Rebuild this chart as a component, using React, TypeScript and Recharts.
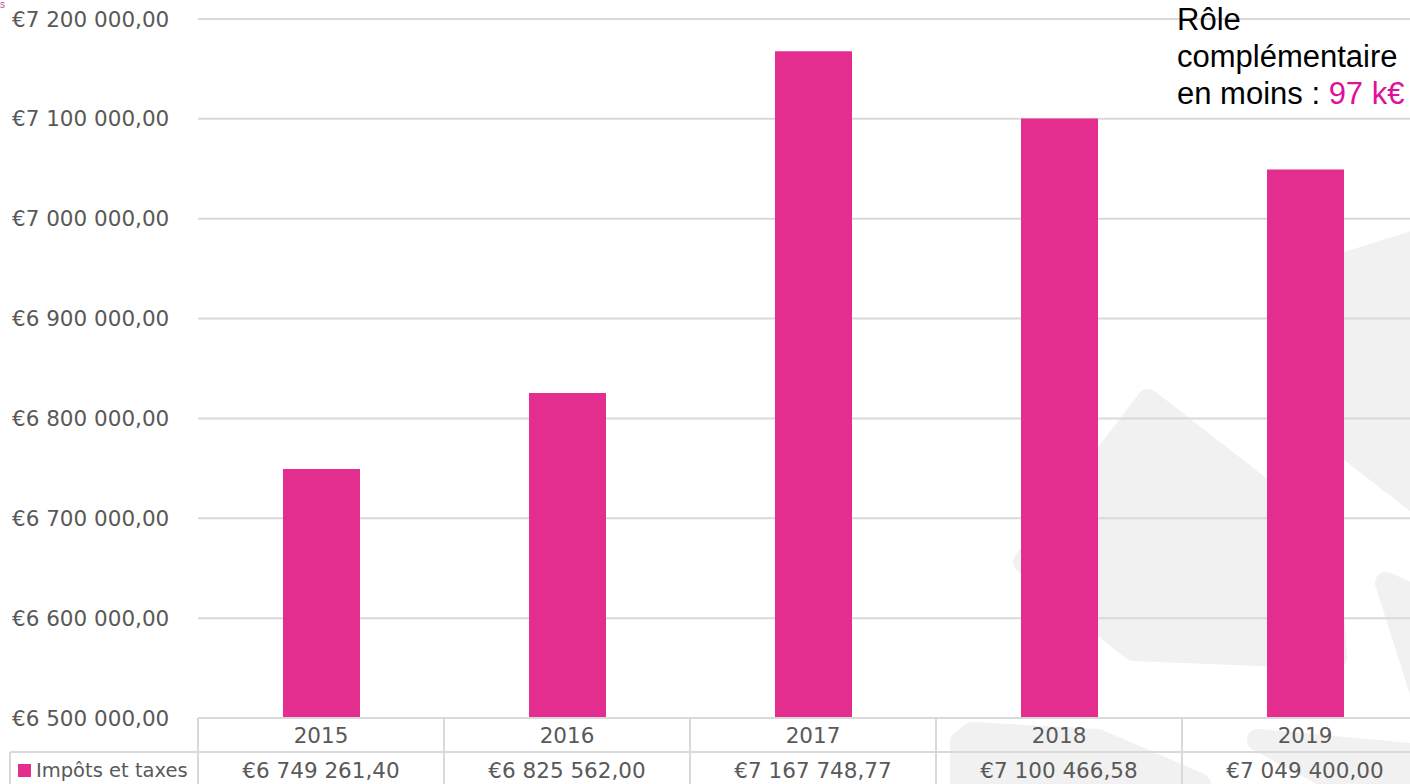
import React from 'react';
import { BarChart, Bar, XAxis, YAxis, CartesianGrid } from 'recharts';

const categories = ['2015', '2016', '2017', '2018', '2019'];
const values = [6749261.4, 6825562.0, 7167748.77, 7100466.58, 7049400.0];
const yTicks = [6500000, 6600000, 6700000, 6800000, 6900000, 7000000, 7100000, 7200000];
const seriesName = 'Impôts et taxes';
const annotationLines = ['Rôle', 'complémentaire', 'en moins : '];
const annotationValue = '97 k€';

const data = categories.map((c, i) => ({ year: c, value: values[i] }));

const W = 1440;
const H = 784;
const PLOT_LEFT = 198;
const PLOT_RIGHT = 1428;
const BAND = (PLOT_RIGHT - PLOT_LEFT) / categories.length;
const FONT = '"DejaVu Sans", Verdana, sans-serif';
const FONT2 = '"Liberation Sans", Arial, sans-serif';
const FS = 21.5;
const FS_LEG = 19.5;
const TXT = '#595959';
const LINE = '#d9d9d9';
const PINK = '#E32D8F';

function fmt(v: number): string {
  const [ip, dp] = v.toFixed(2).split('.');
  const grouped = ip.replace(/\B(?=(\d{3})+(?!\d))/g, ' ');
  return `€${grouped},${dp}`;
}

const YTick = (props: any) => {
  const { y, payload } = props;
  return (
    <text x={12} y={y} dominantBaseline="central" textAnchor="start" fontFamily={FONT} fontSize={FS} fill={TXT}>
      {fmt(payload.value)}
    </text>
  );
};

const XTick = (props: any) => {
  const { x, y, payload, index } = props;
  const i = payload.index ?? index;
  const left = x - BAND / 2;
  const right = x + BAND / 2;
  return (
    <g>
      <line x1={left} y1={y} x2={left} y2={H} stroke={LINE} strokeWidth={2} />
      {i === categories.length - 1 && <line x1={right} y1={y} x2={right} y2={H} stroke={LINE} strokeWidth={2} />}
      {i === 0 && (
        <g>
          <line x1={10} y1={y + 34} x2={W} y2={y + 34} stroke={LINE} strokeWidth={2} />
          <line x1={10} y1={y + 34} x2={10} y2={H} stroke={LINE} strokeWidth={2} />
          <rect x={18} y={y + 46} width={13} height={13} fill={PINK} />
          <text x={36} y={y + 52} dominantBaseline="central" fontFamily={FONT} fontSize={FS_LEG} fill={TXT}>
            {seriesName}
          </text>
        </g>
      )}
      <text x={x} y={y + 17} textAnchor="middle" dominantBaseline="central" fontFamily={FONT} fontSize={FS} fill={TXT}>
        {payload.value}
      </text>
      <text x={x} y={y + 52} textAnchor="middle" dominantBaseline="central" fontFamily={FONT} fontSize={FS} fill={TXT}>
        {fmt(values[i])}
      </text>
    </g>
  );
};

const WM = '#f0f1f0';

export default function App() {
  return (
    <div style={{ position: 'absolute', left: 0, top: 0, width: 1410, height: 784, overflow: 'hidden', background: '#fff' }}>
      <svg width={1410} height={784} style={{ position: 'absolute', left: 0, top: 0 }}>
        <g fill={WM} stroke={WM} strokeWidth={22} strokeLinejoin="round">
          <polygon points="1148,400 1328,540 1336,658 1133,650 1024,562" />
          <polygon points="1285,282 1420,240 1420,505 1285,400" />
          <polygon points="1386,583 1420,598 1420,690" />
          <polygon points="961,784 961,742 972,733 1098,740 1200,784" />
          <polygon points="1258,740 1420,755 1420,784 1340,784" />
        </g>
      </svg>
      <div style={{ position: 'absolute', left: 0, top: 0 }}>
        <BarChart width={W} height={H} data={data} margin={{ top: 19, right: W - PLOT_RIGHT, bottom: 0, left: 0 }}>
          <CartesianGrid horizontal vertical={false} stroke={LINE} strokeWidth={2} />
          <YAxis
            type="number"
            domain={[yTicks[0], yTicks[yTicks.length - 1]]}
            ticks={yTicks}
            width={PLOT_LEFT}
            axisLine={false}
            tickLine={false}
            tickSize={0}
            tickMargin={0}
            tick={<YTick />}
            interval={0}
          />
          <XAxis
            dataKey="year"
            height={66}
            axisLine={{ stroke: LINE, strokeWidth: 2 }}
            tickLine={false}
            tickSize={0}
            tickMargin={0}
            interval={0}
            tick={<XTick />}
          />
          <Bar dataKey="value" fill={PINK} barSize={77} isAnimationActive={false} />
        </BarChart>
      </div>
      <svg width={1410} height={784} style={{ position: 'absolute', left: 0, top: 0, pointerEvents: 'none' }}>
        <text x={0} y={8} fontFamily={FONT2} fontSize={10} fill="#b84c9e">s</text>
        <g fontFamily={FONT2} fontSize={31} fill="#000">
          <text x={1177} y={30}>{annotationLines[0]}</text>
          <text x={1177} y={67}>{annotationLines[1]}</text>
          <text x={1177} y={104}>
            {annotationLines[2]}
            <tspan fill="#E0109A">{annotationValue}</tspan>
          </text>
        </g>
      </svg>
    </div>
  );
}
